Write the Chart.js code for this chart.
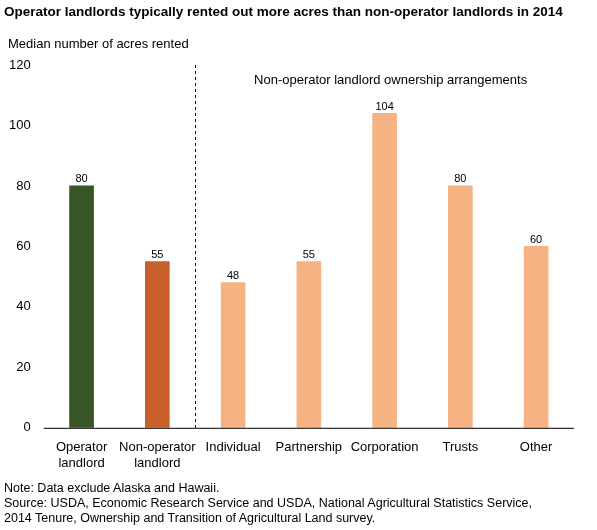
<!DOCTYPE html>
<html><head><meta charset="utf-8">
<script src="https://cdn.jsdelivr.net/npm/chart.js@4"></script>
<style>
body{margin:0;background:#fff;font-family:"Liberation Sans",Arial,sans-serif;}
#wrap{position:relative;width:597px;height:530px;}
canvas{position:absolute;left:0;top:0;}
.t{position:absolute;color:#000;white-space:nowrap;}
</style></head><body>
<div id="wrap">
<canvas id="c" width="597" height="530"></canvas>
<div class="t" style="left:4px;top:4px;font-size:13.5px;font-weight:bold;">Operator landlords typically rented out more acres than non-operator landlords in 2014</div>
<div class="t" style="left:8px;top:36px;font-size:13px;">Median number of acres rented</div>
<div class="t" style="left:4px;top:481px;font-size:12.5px;line-height:15px;">Note: Data exclude Alaska and Hawaii.<br>Source: USDA, Economic Research Service and USDA, National Agricultural Statistics Service,<br>2014 Tenure, Ownership and Transition of Agricultural Land survey.</div>
</div>
<script>
const categories=[["Operator","landlord"],["Non-operator","landlord"],"Individual","Partnership","Corporation","Trusts","Other"];
const values=[80,55,48,55,104,80,60];
const colors=["#385526","#c9602b","#f5b283","#f5b283","#f5b283","#f5b283","#f5b283"];
const yTicks=[0,20,40,60,80,100,120];
const groupLabel="Non-operator landlord ownership arrangements";
const FONT='"Liberation Sans",Arial,sans-serif';
const extras={id:'extras',afterDatasetsDraw(ch){
 const ctx=ch.ctx,x=ch.scales.x,y=ch.scales.y,meta=ch.getDatasetMeta(0);
 ctx.save();ctx.fillStyle='#000';ctx.font='11px '+FONT;ctx.textAlign='center';ctx.textBaseline='bottom';
 meta.data.forEach((b,i)=>ctx.fillText(values[i],b.x,b.y-1));
 const dx=(x.getPixelForValue(1)+x.getPixelForValue(2))/2;
 ctx.setLineDash([3,3]);ctx.strokeStyle='#000';ctx.lineWidth=1;
 ctx.beginPath();ctx.moveTo(Math.round(dx)+0.5,y.getPixelForValue(120));ctx.lineTo(Math.round(dx)+0.5,y.getPixelForValue(0));ctx.stroke();
 ctx.setLineDash([]);ctx.font='13px '+FONT;ctx.textBaseline='middle';
 ctx.fillText(groupLabel,(x.getPixelForValue(2)+x.getPixelForValue(6))/2+6,y.getPixelForValue(115));
 ctx.strokeStyle='#000';ctx.beginPath();ctx.moveTo(ch.chartArea.left,y.getPixelForValue(0)+0.5);ctx.lineTo(ch.chartArea.right,y.getPixelForValue(0)+0.5);ctx.stroke();
 ctx.restore();}};
new Chart(document.getElementById('c'),{type:'bar',
 data:{labels:categories,datasets:[{data:values,backgroundColor:colors,barThickness:24}]},
 options:{responsive:false,animation:false,
  layout:{padding:{left:4,right:23,top:65,bottom:55}},
  plugins:{legend:{display:false},tooltip:{enabled:false}},
  scales:{
   x:{grid:{display:false},border:{display:false},afterFit(s){s.paddingLeft=0;s.paddingRight=0;},ticks:{color:'#000',autoSkip:false,font:{family:FONT,size:13},maxRotation:0,padding:4}},
   y:{min:0,max:120,afterBuildTicks(a){a.ticks=yTicks.map(v=>({value:v}));},grid:{display:false},border:{display:false},ticks:{color:'#000',font:{family:FONT,size:13},padding:5}}
  }},plugins:[extras]});
</script></body></html>
